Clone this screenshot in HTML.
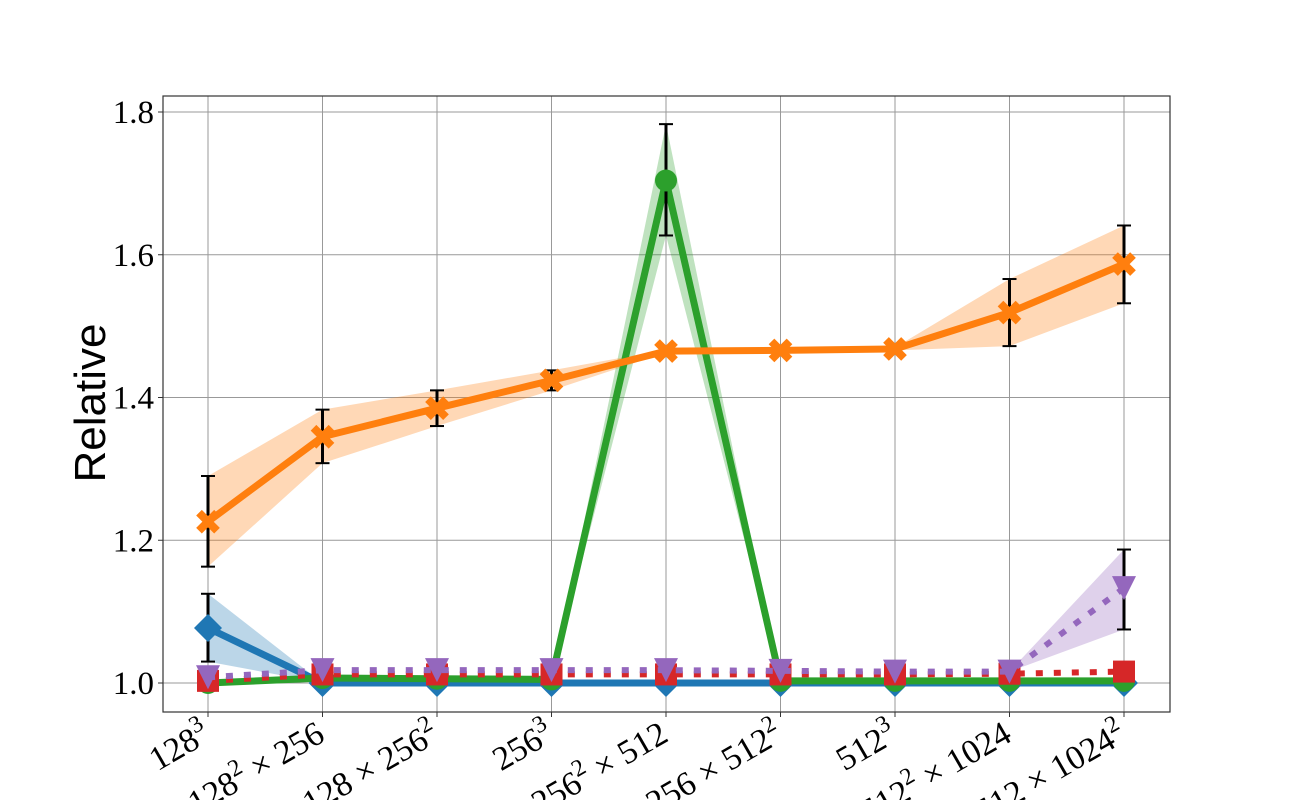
<!DOCTYPE html>
<html><head><meta charset="utf-8"><style>
body{margin:0;background:#fff}
svg text{font-family:"Liberation Serif",serif}
</style></head><body>
<svg id="c" width="1300" height="800" xmlns="http://www.w3.org/2000/svg"></svg>
<script>
const categories=["128|3","128|2| × 256","128 × 256|2","256|3","256|2| × 512","256 × 512|2","512|3","512|2| × 1024","512 × 1024|2"];
const yTicks=[1.0,1.2,1.4,1.6,1.8];
const blueVals=[1.077,1,1,1,1,1,1,1,1];
const blueLo=[1.03,1,1,1,1,1,1,1,1];
const blueHi=[1.125,1,1,1,1,1,1,1,1];
const greenVals=[1.0,1.007,1.006,1.005,1.704,1.003,1.003,1.003,1.003];
const greenLo=[1.0,1.007,1.006,1.005,1.627,1.003,1.003,1.003,1.003];
const greenHi=[1.0,1.007,1.006,1.005,1.783,1.003,1.003,1.003,1.003];
const redVals=[1.003,1.012,1.012,1.012,1.012,1.012,1.012,1.013,1.016];
const purpleVals=[1.008,1.018,1.018,1.018,1.018,1.017,1.016,1.016,1.133];
const purpleLo=[1.008,1.018,1.018,1.018,1.018,1.017,1.016,1.016,1.075];
const purpleHi=[1.008,1.018,1.018,1.018,1.018,1.017,1.016,1.016,1.187];
const orangeVals=[1.226,1.345,1.385,1.424,1.465,1.466,1.468,1.519,1.587];
const orangeLo=[1.163,1.308,1.36,1.41,1.463,1.464,1.466,1.472,1.532];
const orangeHi=[1.29,1.383,1.41,1.438,1.467,1.468,1.47,1.566,1.641];
const errIdx={blue:[0],green:[4],purple:[8],orange:[0,1,2,3,7,8]};

const NS="http://www.w3.org/2000/svg",svg=document.getElementById('c');
const L=163,R=1170,T=96,B=712;
const X=i=>208+i*114.5;
const Y=v=>683-(v-1)*713.75;
function el(t,a,p){const e=document.createElementNS(NS,t);for(const k in a)e.setAttribute(k,a[k]);(p||svg).appendChild(e);return e;}
const frame=el('rect',{x:L,y:T,width:R-L,height:B-T,fill:'#fff',stroke:'none'});


categories.forEach((c,i)=>{const g=el('line',{x1:X(i),x2:X(i),y1:T,y2:B,stroke:'#999',"stroke-width":1});


const t=el('line',{x1:X(i),x2:X(i),y1:B,y2:B+5,stroke:'#333',"stroke-width":1});


const p=c.split('|');
const tx=el('text',{x:X(i)+4,y:B+28,"font-size":34,"text-anchor":"end",transform:`rotate(-30 ${X(i)+4} ${B+28})`});


p.forEach((s,k)=>{const ts=el('tspan',{},tx);ts.textContent=s.replace(' × ','  ×  ');ts.setAttribute('xml:space','preserve');if(k==1){ts.setAttribute('dy','-14');ts.setAttribute('font-size','24');}if(k==2){ts.setAttribute('dy','14');}});
});
yTicks.forEach(v=>{const g=el('line',{x1:L,x2:R,y1:Y(v),y2:Y(v),stroke:'#999',"stroke-width":1});


const t=el('line',{x1:L-5,x2:L,y1:Y(v),y2:Y(v),stroke:'#333'});


const tx=el('text',{x:L-9,y:Y(v)+11,"font-size":33,"text-anchor":"end"});tx.textContent=v.toFixed(1);


});
const bd=el('rect',{x:L,y:T,width:R-L,height:B-T,fill:'none',stroke:'#333',"stroke-width":1.2});


const yl=el('text',{x:105,y:403,"font-size":44,"text-anchor":"middle",transform:"rotate(-90 105 403)",style:"font-family:'Liberation Sans',sans-serif"});yl.textContent="Relative";



function band(lo,hi,col,name){const pts=lo.map((v,i)=>X(i)+','+Y(v)).concat(hi.map((v,i)=>X(i)+','+Y(v)).reverse());
const p=el('polygon',{points:pts.join(' '),fill:col,opacity:0.3});

}
function line(vals,col,w,dash,name){const p=el('polyline',{points:vals.map((v,i)=>X(i)+','+Y(v)).join(' '),fill:'none',stroke:col,"stroke-width":w,"stroke-dasharray":dash||'none'});

}
function err(idx,lo,hi,name){idx.forEach(i=>{const g=el('g',{stroke:'#000',"stroke-width":3});


el('line',{x1:X(i),x2:X(i),y1:Y(lo[i]),y2:Y(hi[i])},g);
el('line',{x1:X(i)-7,x2:X(i)+7,y1:Y(lo[i]),y2:Y(lo[i]),"stroke-width":2},g);
el('line',{x1:X(i)-7,x2:X(i)+7,y1:Y(hi[i]),y2:Y(hi[i]),"stroke-width":2},g);});}
function marks(vals,col,shape,name){vals.forEach((v,i)=>{const x=X(i),y=Y(v);let m;
if(shape=='d')m=el('polygon',{points:`${x},${y-14} ${x+14},${y} ${x},${y+14} ${x-14},${y}`,fill:col});
else if(shape=='o')m=el('circle',{cx:x,cy:y,r:11,fill:col});
else if(shape=='s')m=el('rect',{x:x-11,y:y-11,width:22,height:22,fill:col});
else if(shape=='v')m=el('polygon',{points:`${x-12},${y-12} ${x+12},${y-12} ${x},${y+12}`,fill:col});
else m=el('path',{d:`M${x-9},${y-9}L${x+9},${y+9}M${x+9},${y-9}L${x-9},${y+9}`,stroke:col,"stroke-width":8});

});}

band(blueLo,blueHi,'#1f77b4','blue');band(greenLo,greenHi,'#2ca02c','green');
band(purpleLo,purpleHi,'#9467bd','purple');band(orangeLo,orangeHi,'#ff7f0e','orange');
line(blueVals,'#1f77b4',7,null,'blue');err(errIdx.blue,blueLo,blueHi,'blue');marks(blueVals,'#1f77b4','d','blue');
line(greenVals,'#2ca02c',7,null,'green');err(errIdx.green,greenLo,greenHi,'green');marks(greenVals,'#2ca02c','o','green');
line(redVals,'#d62728',6,'7 11','red');marks(redVals,'#d62728','s','red');
line(purpleVals,'#9467bd',6,'7 11','purple');err(errIdx.purple,purpleLo,purpleHi,'purple');marks(purpleVals,'#9467bd','v','purple');
line(orangeVals,'#ff7f0e',7,null,'orange');err(errIdx.orange,orangeLo,orangeHi,'orange');marks(orangeVals,'#ff7f0e','x','orange');
</script>
</body></html>
